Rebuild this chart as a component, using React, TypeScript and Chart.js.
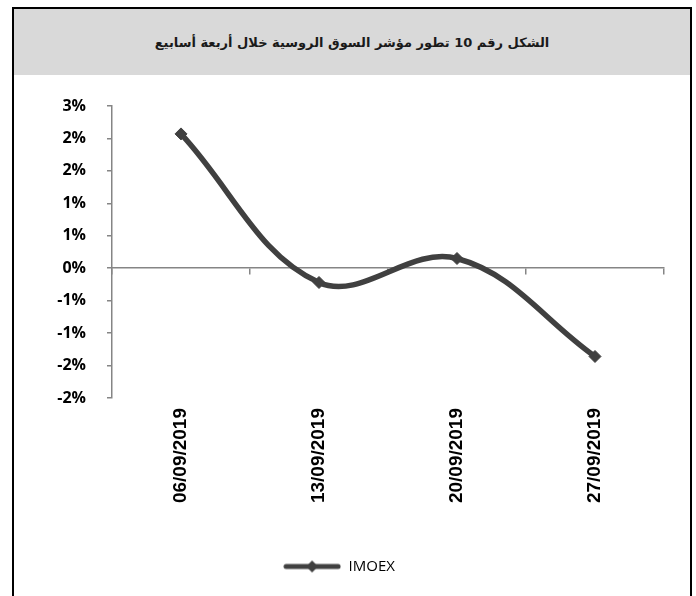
import React, { useEffect, useRef } from "react";
import { Chart, registerables } from "chart.js";

Chart.register(...registerables);

const TITLE = "الشكل رقم 10 تطور مؤشر السوق الروسية خلال أربعة أسابيع";
const categories = ["06/09/2019", "13/09/2019", "20/09/2019", "27/09/2019"];
const seriesName = "IMOEX";
const imoexValues = [2.07, -0.22, 0.15, -1.36]; // percent
const yMin = -2;
const yMax = 2.5;
const yStep = 0.5;

const LINE_COLOR = "#404040";
const AXIS_COLOR = "#858585";

function makeLegendIcon(): HTMLCanvasElement {
  const c = document.createElement("canvas");
  c.width = 58;
  c.height = 14;
  const ctx = c.getContext("2d")!;
  ctx.strokeStyle = LINE_COLOR;
  ctx.lineWidth = 5;
  ctx.lineCap = "round";
  ctx.beginPath();
  ctx.moveTo(3, 7);
  ctx.lineTo(55, 7);
  ctx.stroke();
  ctx.fillStyle = LINE_COLOR;
  ctx.beginPath();
  ctx.moveTo(29, 1);
  ctx.lineTo(35, 7);
  ctx.lineTo(29, 13);
  ctx.lineTo(23, 7);
  ctx.closePath();
  ctx.fill();
  return c;
}

function fmtPct(v: number): string {
  const r = Math.round(Math.abs(v) + 1e-9);
  if (r === 0) return "0%";
  return (v < 0 ? "-" : "") + r + "%";
}

export default function App() {
  const ref = useRef<HTMLCanvasElement | null>(null);

  useEffect(() => {
    if (!ref.current) return;
    const icon = makeLegendIcon();
    const chart = new Chart(ref.current, {
      type: "line",
      data: {
        labels: categories,
        datasets: [
          {
            label: seriesName,
            data: imoexValues,
            borderColor: LINE_COLOR,
            backgroundColor: LINE_COLOR,
            borderWidth: 5.5,
            tension: 0.38,
            pointStyle: "rectRot",
            pointRadius: 6,
            pointBackgroundColor: LINE_COLOR,
            pointBorderColor: LINE_COLOR,
            pointBorderWidth: 1,
            clip: false as any,
          },
        ],
      },
      options: {
        animation: false,
        responsive: false,
        maintainAspectRatio: false,
        layout: { padding: { top: 31, left: 0, right: 26, bottom: 12 } },
        plugins: {
          title: { display: false },
          tooltip: { enabled: false },
          legend: {
            display: true,
            position: "bottom",
            labels: {
              usePointStyle: true,
              pointStyleWidth: 58,
              padding: 10,
              color: "#000000",
              font: { family: "'Open Sans', sans-serif", size: 15 },
              generateLabels: () => [
                {
                  text: seriesName,
                  pointStyle: icon as any,
                  fillStyle: LINE_COLOR,
                  strokeStyle: LINE_COLOR,
                  lineWidth: 0,
                  hidden: false,
                  datasetIndex: 0,
                },
              ],
            },
          },
        },
        scales: {
          x: {
            type: "category",
            position: "bottom",
            offset: true,
            grid: { display: false, drawTicks: false, offset: true },
            border: { display: false },
            ticks: {
              minRotation: 90,
              maxRotation: 90,
              padding: 10,
              color: "#000000",
              font: { family: "'Liberation Sans', Arial, sans-serif", size: 19, weight: "bold" },
            },
            afterFit: (s: any) => {
              s.height = 151;
            },
          },
          x2: {
            type: "category",
            position: { y: 0 } as any,
            offset: true,
            min: categories[0],
            max: categories[categories.length - 1],
            grid: {
              display: true,
              offset: true,
              drawOnChartArea: false,
              drawTicks: true,
              tickLength: 6,
              color: AXIS_COLOR,
              lineWidth: 1.5,
            },
            border: { display: true, color: AXIS_COLOR, width: 1.5 },
            ticks: { display: false },
          },
          y: {
            type: "linear",
            min: yMin,
            max: yMax,
            grid: {
              display: true,
              drawOnChartArea: false,
              drawTicks: true,
              tickLength: 5,
              color: AXIS_COLOR,
              lineWidth: 1.5,
            },
            border: { display: true, color: AXIS_COLOR, width: 1.5 },
            ticks: {
              stepSize: yStep,
              padding: 21,
              color: "#000000",
              font: { family: "'Open Sans', sans-serif", size: 16, weight: "bold" },
              callback: (v: any) => fmtPct(Number(v)),
            },
            afterFit: (s: any) => {
              s.width = 98;
            },
          },
        },
      },
    });
    return () => chart.destroy();
  }, []);

  return (
    <div
      style={{
        position: "absolute",
        left: 12,
        top: 7,
        width: 680,
        height: 600,
        boxSizing: "border-box",
        border: "2px solid #000",
        background: "#fff",
      }}
    >
      <div
        style={{
          height: 66,
          background: "#d9d9d9",
          display: "flex",
          alignItems: "center",
          justifyContent: "center",
          fontFamily: "'DejaVu Sans', sans-serif",
          fontWeight: "bold",
          fontSize: 13,
          color: "#1a1a1a",
          direction: "rtl",
        }}
      >
        {TITLE}
      </div>
      <canvas ref={ref} width={676} height={521} style={{ display: "block", width: 676, height: 521 }} />
    </div>
  );
}
